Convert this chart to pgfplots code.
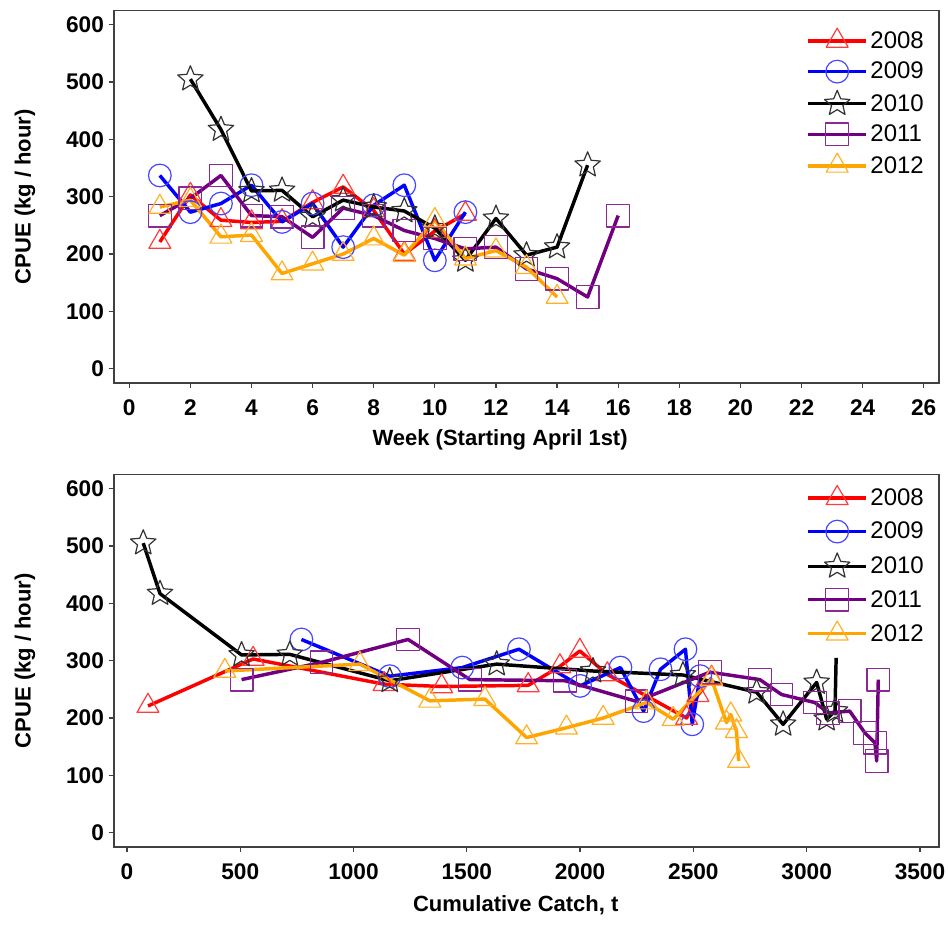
\documentclass[border=0pt]{standalone}
\usepackage{pgfplots}
\pgfplotsset{compat=1.18}
\usepackage{fontspec}
\setmainfont{Liberation Sans}
\definecolor{c08}{RGB}{255,0,0}
\definecolor{c09}{RGB}{0,0,255}
\definecolor{c10}{RGB}{0,0,0}
\definecolor{c11}{RGB}{112,0,128}
\definecolor{c12}{RGB}{255,165,0}
\definecolor{m08}{RGB}{255,60,60}
\definecolor{m09}{RGB}{70,70,255}
\definecolor{m10}{RGB}{50,50,50}
\definecolor{m11}{RGB}{140,40,150}
\definecolor{m12}{RGB}{255,175,40}
\pgfdeclareplotmark{ostar}{%
  \pgfpathmoveto{\pgfpointpolar{90}{\pgfplotmarksize}}%
  \pgfpathlineto{\pgfpointpolar{126}{0.45\pgfplotmarksize}}%
  \pgfpathlineto{\pgfpointpolar{162}{\pgfplotmarksize}}%
  \pgfpathlineto{\pgfpointpolar{198}{0.45\pgfplotmarksize}}%
  \pgfpathlineto{\pgfpointpolar{234}{\pgfplotmarksize}}%
  \pgfpathlineto{\pgfpointpolar{270}{0.45\pgfplotmarksize}}%
  \pgfpathlineto{\pgfpointpolar{306}{\pgfplotmarksize}}%
  \pgfpathlineto{\pgfpointpolar{342}{0.45\pgfplotmarksize}}%
  \pgfpathlineto{\pgfpointpolar{18}{\pgfplotmarksize}}%
  \pgfpathlineto{\pgfpointpolar{54}{0.45\pgfplotmarksize}}%
  \pgfpathclose\pgfusepathqstroke}
\pgfplotsset{
  common/.style={
    scale only axis, width=618.75pt, height=279.5pt,
    axis line style={black!75, line width=0.9pt},
    tick align=outside, tick style={black!75, line width=0.9pt},
    major tick length=4pt, xtick pos=bottom, ytick pos=left,
    ymin=-25, ymax=625, ytick={0,100,...,600},
    ticklabel style={font=\bfseries\fontsize{17}{20}\selectfont},
    xticklabel style={yshift=-5pt},
    /pgf/number format/assume math mode=true,
    /pgf/number format/1000 sep={},
    label style={font=\bfseries\fontsize{16.5}{20}\selectfont},
    legend style={draw=none, fill=none, anchor=north east,
      font=\fontsize{18}{21}\selectfont},
    legend cell align=left,
    legend image code/.code={\draw[mark repeat=2, mark phase=2] plot coordinates {(0cm,0cm)(0.76cm,0cm)(1.52cm,0cm)};},
    every axis plot/.append style={line width=2.6pt, line join=round},
    ylabel={CPUE (kg / hour)},
    ylabel style={at={(axis description cs:-0.108,0.5)}, anchor=center},
  },
  s08/.style={color=c08, mark=triangle, mark size=9.5pt, mark options={solid, line width=0.9pt, draw=m08}},
  s09/.style={color=c09, mark=o, mark size=8.5pt, mark options={solid, line width=0.9pt, draw=m09}},
  s10/.style={color=c10, mark=ostar, mark size=10pt, mark options={solid, line width=0.9pt, draw=m10}},
  s11/.style={color=c11, mark=square, mark size=8.5pt, mark options={solid, line width=0.9pt, draw=m11}},
  s12/.style={color=c12, mark=triangle, mark size=9.5pt, mark options={solid, line width=0.9pt, draw=m12}},
}
\begin{document}
\begin{tikzpicture}
\useasboundingbox (0,0) rectangle (711pt,-696pt);
\begin{axis}[common, at={(85.5pt,-287.25pt)}, anchor=south west,
  xmin=-0.5, xmax=26.5, xtick={0,2,...,26},
  xlabel={Week (Starting April 1st)},
  xlabel style={at={(axis description cs:0.468,0)}, yshift=-42.75pt, anchor=center},
  legend style={at={(0.99,0.96)}, row sep=5pt}]
\addplot[s08] coordinates {(1,221)(2,303)(3,259)(4,255)(5,257)(6,290)(7,317)(8,276)(9,200)(10,240)(11,270)};
\addlegendentry{2008}
\addplot[s09] coordinates {(1,337)(2,273)(3,288)(4,320)(5,256)(6,288)(7,212)(8,285)(9,320)(10,189)(11,273)};
\addlegendentry{2009}
\addplot[s10] coordinates {(2,505)(3,417)(4,310)(5,311)(6,265)(7,294)(8,282)(9,275)(10,245)(11,189)(12,262)(13,198)(14,212)(15,355)};
\addlegendentry{2010}
\addplot[s11] coordinates {(1,267)(2,297)(3,337)(4,267)(5,265)(6,229)(7,280)(8,267)(9,241)(10,227)(11,209)(12,212)(13,174)(14,157)(15,125)(16,267)};
\addlegendentry{2011}
\addplot[s12] coordinates {(1,282)(2,294)(3,230)(4,233)(5,166)(6,183)(7,200)(8,227)(9,198)(10,259)(11,192)(12,206)(13,177)(14,125)};
\addlegendentry{2012}
\end{axis}
\begin{axis}[common, at={(85.5pt,-635.25pt)}, anchor=south west,
  xmin=-57, xmax=3584, xtick={0,500,...,3500},
  xlabel={Cumulative Catch, t},
  xlabel style={at={(axis description cs:0.487,0)}, yshift=-43.5pt, anchor=center},
  legend style={at={(0.99,0.978)}, row sep=7pt}]
\addplot[s08] coordinates {(93,221)(557,303)(1135,259)(1389,255)(1771,257)(1911,290)(1999,317)(2120,276)(2470,200)(2520,240)(2580,270)};
\addlegendentry{2008}
\addplot[s09] coordinates {(770,337)(1160,273)(1480,288)(1730,320)(2000,256)(2178,288)(2280,212)(2355,285)(2465,320)(2495,189)(2530,273)};
\addlegendentry{2009}
\addplot[s10] coordinates {(72,505)(146,417)(506,310)(719,311)(1160,265)(1632,294)(2057,282)(2454,275)(2779,245)(2896,189)(3044,262)(3088,198)(3125,212)};
\addlegendentry{2010}
\addplot[s11] coordinates {(506,267)(859,297)(1241,337)(1514,267)(1933,265)(2249,229)(2573,280)(2793,267)(2889,241)(3036,227)(3095,209)(3190,212)(3257,174)(3301,157)(3309,125)(3316,267)};
\addlegendentry{2011}
\addplot[s12] coordinates {(432,282)(1028,294)(1337,230)(1580,233)(1764,166)(1940,183)(2102,200)(2293,227)(2411,198)(2580,268)(2646,192)(2665,206)(2690,177)(2700,125)};
\addlegendentry{2012}
\addplot[c10, line width=2.6pt, forget plot] coordinates {(3125,212)(3130,305)};
\end{axis}
\end{tikzpicture}
\end{document}
